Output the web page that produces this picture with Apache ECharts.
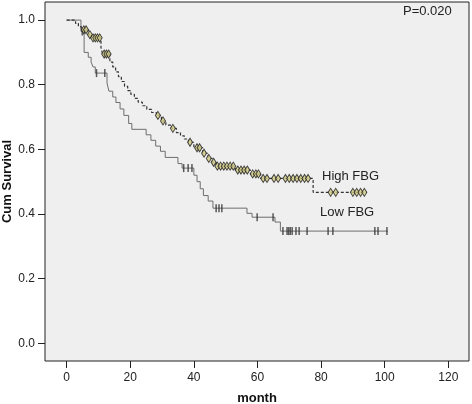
<!DOCTYPE html>
<html>
<head>
<meta charset="utf-8">
<script src="https://cdn.jsdelivr.net/npm/echarts@6/dist/echarts.min.js"></script>
<style>html,body{margin:0;padding:0;background:#fff}#c{width:472px;height:404px}</style>
</head>
<body>
<div id="c"></div>
<script>
// Kaplan-Meier steps: [month, cumulative survival after event]
var lowSteps = [[0,1.0],[4.5,0.965],[5.5,0.90],[6.8,0.885],[7.7,0.87],[8.3,0.855],[9.0,0.836],
  [12.7,0.805],[13.3,0.78],[14.5,0.762],[15.5,0.745],[16.8,0.725],[18.0,0.705],[19.5,0.68],[20.5,0.662],
  [25.0,0.645],[26.5,0.628],[28.0,0.61],[29.5,0.594],[31.0,0.575],[35.0,0.556],[36.3,0.542],
  [40.0,0.52],[41.0,0.50],[42.0,0.478],[43.0,0.457],[44.5,0.44],[46.0,0.418],
  [56.7,0.402],[58.3,0.39],[65.5,0.375],[67.2,0.347],[101,0.347]];
var lowCensored = [[4.9,0.965],[9.4,0.836],[12.0,0.836],[36.8,0.542],[38.2,0.542],[39.4,0.542],
  [47.0,0.418],[47.9,0.418],[48.8,0.418],[59.9,0.39],[64.9,0.39],
  [68.0,0.347],[69.3,0.347],[69.8,0.347],[70.3,0.347],[70.9,0.347],[72.1,0.347],[73.1,0.347],[75.6,0.347],
  [82.2,0.347],[83.7,0.347],[96.9,0.347],[97.9,0.347],[100.7,0.347]];
var highSteps = [[0,1.0],[2.8,0.99],[3.7,0.98],[4.6,0.97],[6.8,0.955],[7.8,0.945],[10.8,0.915],[11.3,0.895],
  [13.6,0.87],[14.5,0.855],[15.4,0.84],[16.3,0.825],[17.2,0.81],[18.2,0.795],[19.2,0.782],[20.2,0.77],
  [21.3,0.758],[22.5,0.746],[23.8,0.735],[25.2,0.724],[26.7,0.714],[28.2,0.705],[29.8,0.688],[31.2,0.675],
  [33.0,0.665],[34.5,0.652],[35.8,0.642],[37.0,0.632],[38.3,0.622],[40.0,0.605],[42.8,0.588],[44.5,0.572],
  [45.8,0.56],[47.0,0.548],[53.0,0.536],[57.8,0.524],[61.0,0.51],[77.5,0.467],[94.4,0.467]];
var highCensored = [[5.4,0.97],[6.1,0.97],[7.3,0.955],[8.3,0.945],[9.0,0.945],[9.7,0.945],[10.4,0.945],
  [11.8,0.895],[12.5,0.895],[13.2,0.895],[28.7,0.705],[30.3,0.688],[33.4,0.665],[38.8,0.622],
  [41.0,0.605],[41.8,0.605],[43.2,0.588],[44.7,0.572],[46.2,0.56],[47.4,0.548],[48.4,0.548],[49.4,0.548],
  [50.4,0.548],[51.4,0.548],[52.4,0.548],[53.8,0.536],[54.8,0.536],[55.8,0.536],[56.8,0.536],
  [58.5,0.524],[59.5,0.524],[60.3,0.524],[61.8,0.51],[63.0,0.51],[65.2,0.51],[66.5,0.51],
  [68.8,0.51],[70.0,0.51],[71.2,0.51],[72.4,0.51],[73.6,0.51],[74.8,0.51],[75.9,0.51],
  [83.0,0.467],[84.6,0.467],[90.0,0.467],[91.2,0.467],[92.4,0.467],[93.6,0.467]];
var xTicks = [0,20,40,60,80,100,120];
var yTicks = [0.0,0.2,0.4,0.6,0.8,1.0];
var groupNames = ['High FBG','Low FBG'];
var pText = 'P=0.020';

var chart = echarts.init(document.getElementById('c'));
var font = 'Liberation Sans, Arial, sans-serif';
chart.setOption({
  animation: false,
  grid: {left: 45, right: 3, top: 2, bottom: 43, containLabel: false, outerBoundsMode: 'none',
    show: true, backgroundColor: '#efefef', borderColor: '#222', borderWidth: 1},
  xAxis: {type: 'value', min: -6.8, max: 126.5,
    name: 'month', nameLocation: 'middle', nameGap: 31, nameMoveOverlap: false,
    nameTextStyle: {fontFamily: font, fontSize: 13, fontWeight: 'bold', color: '#111'},
    axisLine: {show: false, onZero: false}, splitLine: {show: false},
    axisTick: {show: true, length: 7, customValues: xTicks, lineStyle: {color: '#222'}},
    axisLabel: {customValues: xTicks, margin: 11, fontFamily: font, fontSize: 12, color: '#222'}},
  yAxis: {type: 'value', min: -0.055, max: 1.056,
    name: 'Cum Survival', nameLocation: 'middle', nameGap: 31, nameMoveOverlap: false,
    nameTextStyle: {fontFamily: font, fontSize: 13, fontWeight: 'bold', color: '#111'},
    axisLine: {show: false, onZero: false}, splitLine: {show: false},
    axisTick: {show: true, length: 7, customValues: yTicks, lineStyle: {color: '#222'}},
    axisLabel: {customValues: yTicks, margin: 10, fontFamily: font, fontSize: 12, color: '#222',
      formatter: function (v) { return v.toFixed(1); }}},
  series: [
    {name: groupNames[1], type: 'line', step: 'end', data: lowSteps, showSymbol: false, symbol: 'none',
      lineStyle: {color: '#6e6e6e', width: 1}, z: 2},
    {name: groupNames[0], type: 'line', step: 'end', data: highSteps, showSymbol: false, symbol: 'none',
      lineStyle: {color: '#333', width: 1.2, type: [3, 2]}, z: 3},
    {type: 'scatter', data: lowCensored, symbol: 'rect', symbolSize: [1.5, 8],
      itemStyle: {color: '#333'}, z: 4},
    {type: 'scatter', data: highCensored, symbol: 'diamond', symbolSize: [5, 8],
      itemStyle: {color: '#d2ca86', borderColor: '#1a1a1a', borderWidth: 1}, z: 5}
  ],
  graphic: [
    {type: 'text', left: 322, top: 170, style: {text: groupNames[0], font: '13px ' + font, fill: '#222'}},
    {type: 'text', left: 320, top: 206, style: {text: groupNames[1], font: '13px ' + font, fill: '#222'}},
    {type: 'text', left: 403, top: 5, style: {text: pText, font: '13px ' + font, fill: '#222'}}
  ]
});
</script>
</body>
</html>
